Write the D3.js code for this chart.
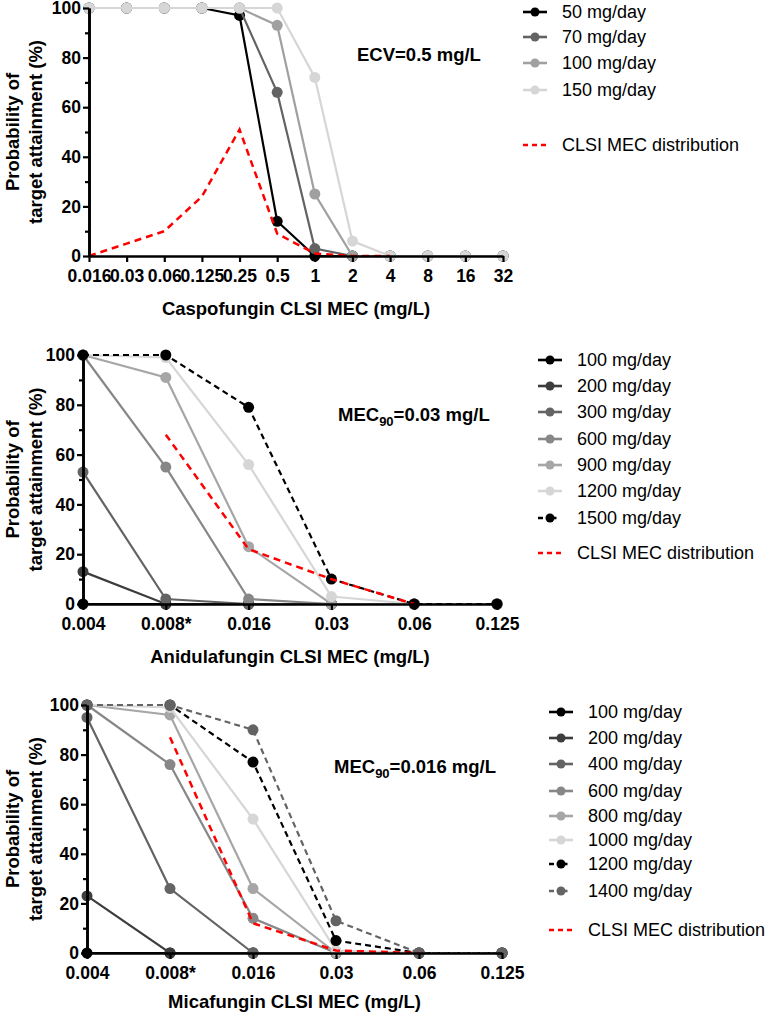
<!DOCTYPE html>
<html>
<head>
<meta charset="utf-8">
<script src="https://cdn.jsdelivr.net/npm/d3@7"></script>
<style>
  body { margin: 0; background: #fff; }
  svg { font-family: Arial, "Liberation Sans", sans-serif; }
</style>
</head>
<body>
<div id="chart"></div>
<script>
// ---- data ----
const caspoMEC = ["0.016", "0.03", "0.06", "0.125", "0.25", "0.5", "1", "2", "4", "8", "16", "32"]
const caspo50  = [100, 100, 100, 100, 97, 14, 0, 0, 0, 0, 0, 0]
const caspo70  = [100, 100, 100, 100, 100, 66, 3, 0, 0, 0, 0, 0]
const caspo100 = [100, 100, 100, 100, 100, 93, 25, 0, 0, 0, 0, 0]
const caspo150 = [100, 100, 100, 100, 100, 100, 72, 6, 0, 0, 0, 0]
const caspoCLSI = [0, 5, 10, 24, 51, 9, 1, 0, 0, null, null, null]

const anidMEC = ["0.004", "0.008*", "0.016", "0.03", "0.06", "0.125"]
const anid100  = [0, 0, 0, 0, 0, 0]
const anid200  = [13, 0, 0, 0, 0, 0]
const anid300  = [53, 2, 0, 0, 0, 0]
const anid600  = [100, 55, 2, 0, 0, 0]
const anid900  = [100, 91, 23, 0, 0, 0]
const anid1200 = [100, 99, 56, 3, 0, 0]
const anid1500 = [100, 100, 79, 10, 0, 0]
const anidCLSI = [null, 68, 22, 10, 0, null]

const micaMEC = ["0.004", "0.008*", "0.016", "0.03", "0.06", "0.125"]
const mica100  = [0, 0, 0, 0, 0, 0]
const mica200  = [23, 0, 0, 0, 0, 0]
const mica400  = [95, 26, 0, 0, 0, 0]
const mica600  = [100, 76, 14, 0, 0, 0]
const mica800  = [100, 96, 26, 0, 0, 0]
const mica1000 = [100, 99, 54, 1, 0, 0]
const mica1200 = [100, 100, 77, 5, 0, 0]
const mica1400 = [100, 100, 90, 13, 0, 0]
const micaCLSI = [null, 87, 12, 1, 0, null]

const yTicks = [0, 20, 40, 60, 80, 100]
const yMinor = [10, 30, 50, 70, 90]

// ---- panels ----
const panels = [
    {
        cats: caspoMEC,
        x0: 89, x1: 503, yTop: 8, yBot: 256,
        title: "Caspofungin CLSI MEC (mg/L)", titleY: 315,
        note: ["ECV=0.5 mg/L"], noteX: 357, noteY: 61,
        legX: 523, legRows: [12, 37, 63, 90], legCLSI: 145,
        series: [
            { name: "50 mg/day", values: caspo50, color: "#000000" },
            { name: "70 mg/day", values: caspo70, color: "#636363" },
            { name: "100 mg/day", values: caspo100, color: "#a0a0a0" },
            { name: "150 mg/day", values: caspo150, color: "#d6d6d6" }
        ],
        clsi: caspoCLSI
    },
    {
        cats: anidMEC,
        x0: 83, x1: 497, yTop: 355, yBot: 604,
        title: "Anidulafungin CLSI MEC (mg/L)", titleY: 663,
        note: ["MEC", "90", "=0.03 mg/L"], noteX: 338, noteY: 421,
        legX: 538, legRows: [360, 386, 412, 439, 465, 491, 518], legCLSI: 553,
        series: [
            { name: "100 mg/day", values: anid100, color: "#000000" },
            { name: "200 mg/day", values: anid200, color: "#3d3d3d" },
            { name: "300 mg/day", values: anid300, color: "#646464" },
            { name: "600 mg/day", values: anid600, color: "#878787" },
            { name: "900 mg/day", values: anid900, color: "#a6a6a6" },
            { name: "1200 mg/day", values: anid1200, color: "#d6d6d6" },
            { name: "1500 mg/day", values: anid1500, color: "#000000", dash: true }
        ],
        clsi: anidCLSI
    },
    {
        cats: micaMEC,
        x0: 87, x1: 502, yTop: 705, yBot: 953,
        title: "Micafungin CLSI MEC (mg/L)", titleY: 1008,
        note: ["MEC", "90", "=0.016 mg/L"], noteX: 334, noteY: 773,
        legX: 549, legRows: [712, 738, 764, 791, 816, 840, 864, 891], legCLSI: 930,
        series: [
            { name: "100 mg/day", values: mica100, color: "#000000" },
            { name: "200 mg/day", values: mica200, color: "#3d3d3d" },
            { name: "400 mg/day", values: mica400, color: "#646464" },
            { name: "600 mg/day", values: mica600, color: "#878787" },
            { name: "800 mg/day", values: mica800, color: "#a6a6a6" },
            { name: "1000 mg/day", values: mica1000, color: "#d6d6d6" },
            { name: "1200 mg/day", values: mica1200, color: "#000000", dash: true },
            { name: "1400 mg/day", values: mica1400, color: "#646464", dash: true }
        ],
        clsi: micaCLSI
    }
]

const svg = d3.select("#chart")
    .append("svg")
    .attr("width", 771)
    .attr("height", 1019)

panels.forEach(p => {
    let g = svg.append("g")

    let x = d3.scalePoint().domain(p.cats).range([p.x0, p.x1])
    let y = d3.scaleLinear().domain([0, 100]).range([p.yBot, p.yTop])

    let line = d3.line()
        .defined(d => d.v != null)
        .x(d => x(d.c))
        .y(d => y(d.v))

    // series lines + points
    p.series.forEach(s => {
        let pts = s.values.map((v, i) => ({ c: p.cats[i], v: v }))
        g.append("path")
            .datum(pts)
            .attr("fill", "none")
            .attr("stroke", s.color)
            .attr("stroke-width", 2.2)
            .attr("stroke-dasharray", s.dash ? "6,4" : null)
            .attr("d", line)
        g.selectAll(null)
            .data(pts.filter(d => d.v != null))
            .enter()
            .append("circle")
            .attr("cx", d => x(d.c))
            .attr("cy", d => y(d.v))
            .attr("r", 5.5)
            .attr("fill", s.color)
    })

    // CLSI distribution
    let clsiPts = p.clsi.map((v, i) => ({ c: p.cats[i], v: v }))
    g.append("path")
        .datum(clsiPts)
        .attr("fill", "none")
        .attr("stroke", "#ff0000")
        .attr("stroke-width", 2.5)
        .attr("stroke-dasharray", "7,5")
        .attr("d", line)

    // axes
    let yAxis = g.append("g")
        .attr("transform", `translate(${p.x0},0)`)
        .call(d3.axisLeft(y).tickValues(yTicks).tickSize(6).tickPadding(2).tickSizeOuter(0))
    let yMinorAxis = g.append("g")
        .attr("transform", `translate(${p.x0},0)`)
        .call(d3.axisLeft(y).tickValues(yMinor).tickSize(4).tickFormat("").tickSizeOuter(0))
    let xAxis = g.append("g")
        .attr("transform", `translate(0,${p.yBot})`)
        .call(d3.axisBottom(x).tickSize(6).tickPadding(8).tickSizeOuter(0))

    ;[yAxis, yMinorAxis, xAxis].forEach(a => {
        a.select(".domain").attr("stroke", "#000").attr("stroke-width", 2.6)
        a.selectAll(".tick line").attr("stroke", "#000").attr("stroke-width", 2.2)
        a.selectAll("text")
            .attr("fill", "#000")
            .style("font-size", "17.5px")
            .style("font-weight", "bold")
            .style("font-family", "Arial, 'Liberation Sans', sans-serif")
    })

    // axis titles
    let yc = (p.yTop + p.yBot) / 2
    g.append("text")
        .attr("transform", `translate(19,${yc}) rotate(-90)`)
        .attr("text-anchor", "middle")
        .style("font-size", "18.5px")
        .style("font-weight", "bold")
        .text("Probability of")
    g.append("text")
        .attr("transform", `translate(42,${yc}) rotate(-90)`)
        .attr("text-anchor", "middle")
        .style("font-size", "18.5px")
        .style("font-weight", "bold")
        .text("target attainment (%)")
    g.append("text")
        .attr("x", (p.x0 + p.x1) / 2)
        .attr("y", p.titleY)
        .attr("text-anchor", "middle")
        .style("font-size", "18.5px")
        .style("font-weight", "bold")
        .text(p.title)

    // annotation
    let note = g.append("text")
        .attr("x", p.noteX)
        .attr("y", p.noteY)
        .style("font-size", "18.5px")
        .style("font-weight", "bold")
    note.append("tspan").text(p.note[0])
    if (p.note.length > 1) {
        note.append("tspan").attr("dy", 5).style("font-size", "13px").text(p.note[1])
        note.append("tspan").attr("dy", -5).text(p.note[2])
    }

    // legend
    p.series.forEach((s, i) => {
        let ly = p.legRows[i]
        let lg = g.append("g").attr("transform", `translate(${p.legX},${ly})`)
        lg.append("line")
            .attr("x1", 0).attr("x2", 24)
            .attr("stroke", s.color)
            .attr("stroke-width", 2.6)
            .attr("stroke-dasharray", s.dash ? "5,3.5,0,7,3,20" : null)
        lg.append("circle").attr("cx", 12).attr("r", 4.5).attr("fill", s.color)
        lg.append("text")
            .attr("x", 39)
            .attr("dy", "0.35em")
            .style("font-size", "18px")
            .text(s.name)
    })
    let cg = g.append("g").attr("transform", `translate(${p.legX},${p.legCLSI})`)
    cg.append("line")
        .attr("x1", 0).attr("x2", 24)
        .attr("stroke", "#ff0000")
        .attr("stroke-width", 2.6)
        .attr("stroke-dasharray", "5,4")
    cg.append("text")
        .attr("x", 39)
        .attr("dy", "0.35em")
        .style("font-size", "18px")
        .text("CLSI MEC distribution")
})
</script>
</body>
</html>
